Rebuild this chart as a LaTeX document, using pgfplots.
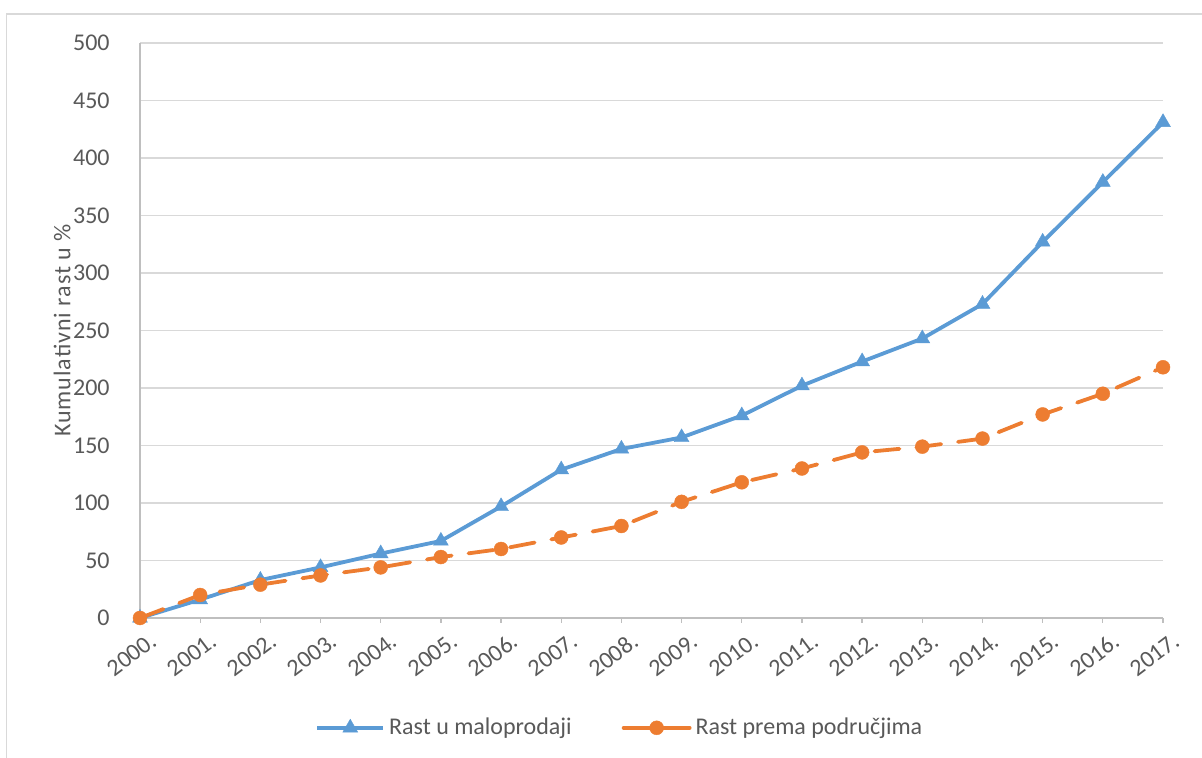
\documentclass[border=0pt]{standalone}
\usepackage{pgfplots}
\pgfplotsset{compat=1.18}
\usepackage{fontspec}
\setmainfont{Carlito}
\newfontfamily\spaced[LetterSpace=4]{Carlito}

\definecolor{serA}{HTML}{5B9BD5}
\definecolor{serB}{HTML}{ED7D31}
\definecolor{gridc}{HTML}{D9D9D9}
\definecolor{axisc}{HTML}{BFBFBF}
\definecolor{txt}{HTML}{595959}

% values, one row per year
\pgfplotstableread{
x blue orange
0  0   0
1  16  20
2  33  29
3  44  37
4  56  44
5  67  53
6  97  60
7  129 70
8  147 80
9  157 101
10 176 118
11 202 130
12 223 144
13 243 149
14 273 156
15 327 177
16 379 195
17 431 218
}\growth

\begin{document}
\begin{tikzpicture}
\useasboundingbox (0pt,0pt) rectangle (601pt,379pt);
\draw[gridc, line width=0.65pt] (3.35pt,-10pt) -- (3.35pt,372pt) -- (620pt,372pt);
\begin{axis}[
    at={(70pt,70pt)}, anchor=south west,
    scale only axis, width=511.5pt, height=287.5pt,
    xmin=0, xmax=17, ymin=0, ymax=500,
    clip=false,
    axis lines*=left,
    axis line style={draw=axisc, line width=0.65pt, -},
    ymajorgrids, grid style={draw=gridc, line width=0.65pt},
    ytick distance=50,
    xtick={0,...,17},
    xticklabels={2000.,2001.,2002.,2003.,2004.,2005.,2006.,2007.,2008.,
                 2009.,2010.,2011.,2012.,2013.,2014.,2015.,2016.,2017.},
    font=\fontsize{12pt}{14pt}\selectfont,
    tick label style={text=txt},
    /pgf/number format/assume math mode=true,
    yticklabel style={anchor=east, inner sep=0pt, xshift=-12.5pt},
    xticklabel style={rotate=37, anchor=north east, inner sep=0pt, yshift=-6pt, xshift=1pt},
    y tick style={draw=none},
    x tick style={draw=axisc, line width=0.65pt},
    tick align=outside, major tick length=2.5pt,
    ylabel={\spaced Kumulativni rast u \%},
    every axis y label/.style={at={(axis description cs:-0.0762,0.5)}, rotate=90,
        anchor=center, text=txt},
    legend columns=2,
    legend style={at={(axis description cs:0.47,-0.191)}, anchor=center,
        draw=none, fill=none, text=txt, font=\fontsize{12pt}{14pt}\selectfont,
        /tikz/every even column/.append style={column sep=23pt}},
    legend image code/.code={\draw[mark repeat=2,mark phase=2,#1,solid]
        plot coordinates {(0pt,0pt) (16.5pt,0pt) (33pt,0pt)};},
]
\addplot[serA, line width=1.9pt, mark=triangle*, mark size=4.3pt,
    mark options={solid, fill=serA, draw=serA, line width=0.2pt}]
    table[x=x, y=blue] {\growth};
\addlegendentry{Rast u maloprodaji}
\addplot[serB, line width=1.9pt, line cap=round, dash pattern=on 12.5pt off 8.5pt,
    mark=*, mark size=3.5pt,
    mark options={solid, fill=serB, draw=serB, line width=0.2pt}]
    table[x=x, y=orange] {\growth};
\addlegendentry{Rast prema područjima}
\end{axis}
\end{tikzpicture}
\end{document}
